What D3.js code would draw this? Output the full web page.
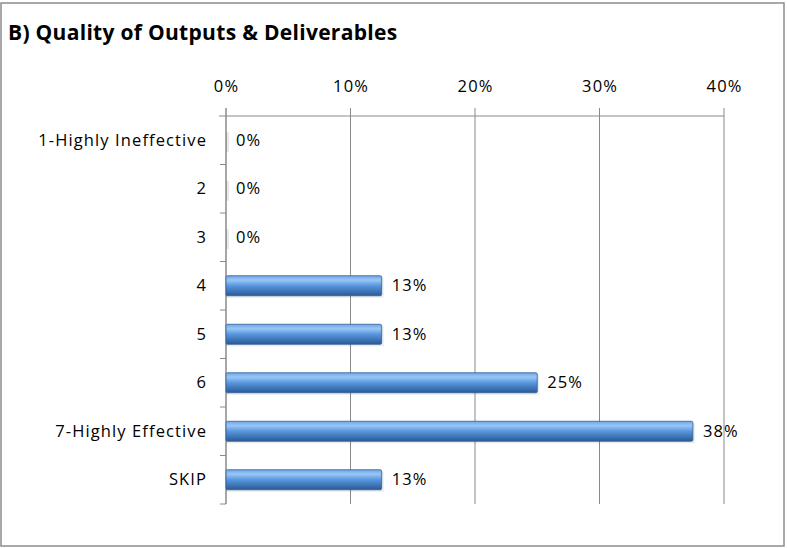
<!DOCTYPE html>
<meta charset="utf-8">
<script src="https://d3js.org/d3.v7.min.js"></script>
<style>
  body { margin: 0; background: #fff; }
  text { font-family: "Open Sans", Lato, sans-serif; fill: #000; }
</style>
<div id="chart"></div>
<script>
// data
var categories = ["1-Highly Ineffective", "2", "3", "4", "5", "6", "7-Highly Effective", "SKIP"];
var shares = [0, 0, 0, 12.5, 12.5, 25, 37.5, 12.5];
var shareLabels = ["0%", "0%", "0%", "13%", "13%", "25%", "38%", "13%"];
var xTicks = [0, 10, 20, 30, 40];

var W = 787, H = 548;
var margin = {top: 116, right: 63, bottom: 44, left: 226};
var width = W - margin.left - margin.right,
    height = H - margin.top - margin.bottom;

var svg = d3.select("#chart").append("svg")
    .attr("width", W).attr("height", H);

// bar gradient
var defs = svg.append("defs");
var grad = defs.append("linearGradient").attr("id", "barGrad")
    .attr("x1", 0).attr("y1", 0).attr("x2", 0).attr("y2", 1);
grad.append("stop").attr("offset", "0%").attr("stop-color", "#6fa6e6");
grad.append("stop").attr("offset", "22%").attr("stop-color", "#9ac6f6");
grad.append("stop").attr("offset", "50%").attr("stop-color", "#5796de");
grad.append("stop").attr("offset", "100%").attr("stop-color", "#2a5994");

// outer frame
svg.append("rect")
    .attr("x", 1).attr("y", 3).attr("width", W - 4).attr("height", H - 5)
    .attr("fill", "none").attr("stroke", "#8c8c8c").attr("stroke-width", 1.5);

svg.append("text")
    .attr("x", 8).attr("y", 40)
    .style("font-size", "21px").style("font-weight", "bold")
    .style("letter-spacing", "0.3px")
    .text("B) Quality of Outputs & Deliverables");

var g = svg.append("g")
    .attr("transform", "translate(" + margin.left + "," + margin.top + ")");

var x = d3.scaleLinear().domain([0, 40]).range([0, width]);
var y = d3.scaleBand().domain(categories).range([0, height]);

// vertical gridlines
g.selectAll(".grid").data(xTicks).enter().append("line")
    .attr("x1", function(d) { return x(d); })
    .attr("x2", function(d) { return x(d); })
    .attr("y1", -8).attr("y2", height)
    .attr("stroke", "#8a8a8a").attr("stroke-width", 1);

var labelFont = function(sel) {
  sel.style("font-size", "16.5px")
     .style("font-family", "'Open Sans', sans-serif")
     .style("letter-spacing", "1.1px");
};

// top axis
var xAxis = g.append("g")
    .call(d3.axisTop(x).tickValues(xTicks).tickSize(0).tickPadding(24)
      .tickFormat(function(d) { return d + "%"; }));
xAxis.select(".domain").remove();
xAxis.selectAll("text").call(labelFont);
g.append("line")
    .attr("x1", -7).attr("x2", width).attr("y1", 0).attr("y2", 0)
    .attr("stroke", "#8a8a8a");

// left axis
var yAxis = g.append("g")
    .call(d3.axisLeft(y).tickSize(0).tickPadding(19));
yAxis.select(".domain").remove();
yAxis.selectAll("text").call(labelFont);
g.selectAll(".ytick").data(categories.slice(1).concat(["end"])).enter().append("line")
    .attr("x1", -6).attr("x2", 0)
    .attr("y1", function(d, i) { return (i + 1) * y.step(); })
    .attr("y2", function(d, i) { return (i + 1) * y.step(); })
    .attr("stroke", "#8a8a8a");
g.append("line")
    .attr("x1", 0).attr("x2", 0).attr("y1", -8).attr("y2", height)
    .attr("stroke", "#8a8a8a");

var barH = 20;
// soft shadow
g.selectAll(".shadow").data(shares).enter().append("rect")
    .attr("x", 0)
    .attr("y", function(d, i) { return y(categories[i]) + y.bandwidth() / 2 - barH / 2 + 2; })
    .attr("width", function(d) { return d > 0 ? x(d) + 2 : 3; })
    .attr("height", barH)
    .attr("fill", "#000").attr("opacity", 0.08);

g.selectAll(".bar").data(shares).enter().append("rect")
    .attr("x", 0)
    .attr("y", function(d, i) { return y(categories[i]) + y.bandwidth() / 2 - barH / 2; })
    .attr("width", function(d) { return x(d); })
    .attr("height", barH)
    .attr("rx", 1.5)
    .attr("fill", "url(#barGrad)")
    .attr("stroke", "#2f5f9c").attr("stroke-width", 0.8)
    .attr("stroke-opacity", function(d) { return d > 0 ? 1 : 0; });

// value labels
g.selectAll(".lbl").data(shares).enter().append("text")
    .attr("x", function(d) { return x(d) + 10; })
    .attr("y", function(d, i) { return y(categories[i]) + y.bandwidth() / 2; })
    .attr("dy", "0.32em")
    .call(labelFont)
    .text(function(d, i) { return shareLabels[i]; });
</script>
